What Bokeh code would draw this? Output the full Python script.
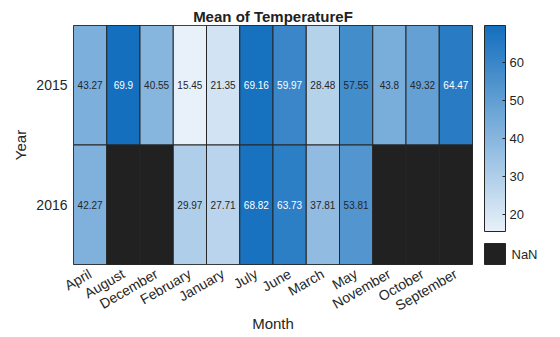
import math
from bokeh.plotting import figure
from bokeh.models import ColumnDataSource, LinearColorMapper, ColorBar, FixedTicker
from bokeh.core.properties import value
from bokeh.embed import file_html
from bokeh.resources import INLINE

months = ["April", "August", "December", "February", "January", "July",
          "June", "March", "May", "November", "October", "September"]
years = ["2015", "2016"]
temp_2015 = [43.27, 69.9, 40.55, 15.45, 21.35, 69.16, 59.97, 28.48, 57.55, 43.8, 49.32, 64.47]
temp_2016 = [42.27, float("nan"), float("nan"), 29.97, 27.71, 68.82, 63.73, 37.81, 53.81,
             float("nan"), float("nan"), float("nan")]
cbar_ticks = [20, 30, 40, 50, 60]

FONT = "Liberation Sans"
LOW_RGB = (232, 241, 249)
HIGH_RGB = (20, 111, 190)
N = 256
palette = []
for i in range(N):
    t = i / (N - 1)
    r, g, b = (round(LOW_RGB[k] + (HIGH_RGB[k] - LOW_RGB[k]) * t) for k in range(3))
    palette.append("#%02x%02x%02x" % (r, g, b))

all_vals = [v for v in temp_2015 + temp_2016 if not math.isnan(v)]
vmin, vmax = min(all_vals), max(all_vals)
mapper = LinearColorMapper(palette=palette, low=vmin, high=vmax, nan_color="#212121")

xs, ys, vals, labels, tcolors = [], [], [], [], []
for yr, series in zip(years, [temp_2015, temp_2016]):
    for m, v in zip(months, series):
        xs.append(m)
        ys.append(yr)
        vals.append(v)
        if math.isnan(v):
            labels.append("")
            tcolors.append("#262626")
        else:
            labels.append(f"{v:.4g}")
            t = (v - vmin) / (vmax - vmin)
            r, g, b = (LOW_RGB[k] + (HIGH_RGB[k] - LOW_RGB[k]) * t for k in range(3))
            lum = 0.299 * r + 0.587 * g + 0.114 * b
            tcolors.append("#ffffff" if lum < 120 else "#262626")

src = ColumnDataSource(dict(x=xs, y=ys, v=vals, label=labels, tc=tcolors))

p = figure(width=560, height=337, x_range=months, y_range=list(reversed(years)),
           output_backend="svg", toolbar_location=None,
           min_border_left=73, min_border_right=88, min_border_top=25, min_border_bottom=73,
           title="Mean of TemperatureF")

p.rect(x="x", y="y", width=1, height=1, source=src,
       fill_color={"field": "v", "transform": mapper},
       line_color="#262626", line_width=1)
p.text(x="x", y="y", text="label", source=src, text_color="tc",
       text_font=value(FONT), text_font_size="10px",
       text_align="center", text_baseline="middle")

p.title.align = "center"
p.title.text_font = FONT
p.title.text_font_size = "15px"
p.title.text_font_style = "bold"
p.title.text_color = "#212121"
p.title.offset = 0
p.title.standoff = 2

p.grid.visible = False
p.outline_line_color = "#262626"
p.background_fill_color = "white"
p.border_fill_color = "white"

for ax in (p.xaxis[0], p.yaxis[0]):
    ax.major_tick_line_color = None
    ax.minor_tick_line_color = None
    ax.axis_line_color = None
    ax.major_tick_out = 0
    ax.major_tick_in = 0
    ax.major_label_text_font = FONT
    ax.major_label_text_color = "#262626"
    ax.axis_label_text_font = FONT
    ax.axis_label_text_font_style = "normal"
    ax.axis_label_text_color = "#262626"
    ax.axis_label_text_font_size = "15px"

p.xaxis.axis_label = "Month"
p.xaxis.major_label_orientation = math.pi / 6
p.xaxis.major_label_text_font_size = "14px"
p.xaxis.major_label_standoff = 8
p.xaxis.axis_label_standoff = -9

p.yaxis.axis_label = "Year"
p.yaxis.major_label_orientation = "horizontal"
p.yaxis.major_label_text_font_size = "14px"
p.yaxis.major_label_standoff = 6
p.yaxis.axis_label_standoff = 4

cb = ColorBar(color_mapper=mapper, location=(411, 33), width=21, height=206,
              padding=0, margin=0, ticker=FixedTicker(ticks=cbar_ticks),
              major_tick_in=3, major_tick_out=0, major_tick_line_color="#262626",
              minor_tick_line_color=None,
              bar_line_color="#262626", border_line_color=None,
              background_fill_alpha=0, label_standoff=4,
              major_label_text_font=FONT, major_label_text_font_size="13px",
              major_label_text_color="#262626")
p.add_layout(cb, "center")

nan_mapper = LinearColorMapper(palette=["#212121"], low=0, high=1)
cb2 = ColorBar(color_mapper=nan_mapper, location=(411, 0), width=21, height=21,
               padding=0, margin=0, ticker=FixedTicker(ticks=[0.5]),
               major_label_overrides={0.5: "NaN"},
               major_tick_line_color=None, minor_tick_line_color=None,
               bar_line_color="#262626", border_line_color=None,
               background_fill_alpha=0, label_standoff=6,
               major_label_text_font=FONT, major_label_text_font_size="13px",
               major_label_text_color="#262626")
p.add_layout(cb2, "center")

open("out.html", "w").write(file_html(p, INLINE))
